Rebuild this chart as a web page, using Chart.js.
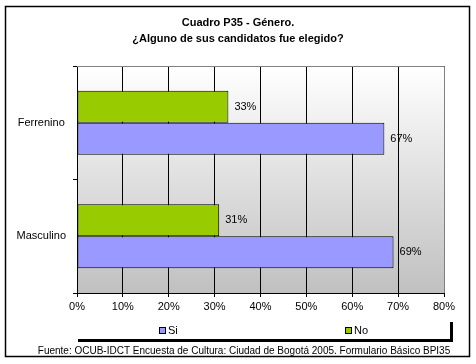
<!DOCTYPE html>
<html><head><meta charset="utf-8">
<script src="https://cdn.jsdelivr.net/npm/chart.js@4/dist/chart.umd.min.js"></script>
<style>html,body{margin:0;padding:0;background:#fff}#wrap{width:476px;height:364px}</style>
</head><body><div id="wrap"><canvas id="c" width="476" height="364"></canvas></div>
<script>
const titleLines = ["Cuadro P35 - Género.", "¿Alguno de sus candidatos fue elegido?"];
const categories = ["Ferrenino", "Masculino"];
const seriesNames = ["Si", "No"];
const siValues = [67, 69];
const noValues = [33, 31];
const xTicks = [0, 10, 20, 30, 40, 50, 60, 70, 80];
const sourceText = "Fuente: OCUB-IDCT Encuesta de Cultura: Ciudad de Bogotá 2005. Formulario Básico BPI35";

const FONT = "'Liberation Sans', Arial, sans-serif";
const colors = {Si: "#9999FF", No: "#99CC00"};

const deco = {
  id: "deco",
  beforeDraw(chart) {
    const {ctx, chartArea: a} = chart;
    const g = ctx.createLinearGradient(0, a.top, 0, a.bottom);
    g.addColorStop(0, "#ffffff");
    g.addColorStop(1, "#c0c0c0");
    ctx.save();
    ctx.fillStyle = g;
    ctx.fillRect(a.left, a.top, a.right - a.left, a.bottom - a.top);
    ctx.restore();
  },
  afterDatasetsDraw(chart) {
    const {ctx, chartArea: a} = chart;
    ctx.save();
    ctx.strokeStyle = "#808080";
    ctx.lineWidth = 1;
    ctx.beginPath();
    ctx.moveTo(a.left, a.top + 0.5); ctx.lineTo(a.right + 0.5, a.top + 0.5);
    ctx.lineTo(a.right + 0.5, a.bottom);
    ctx.stroke();
    ctx.fillStyle = "#000";
    ctx.font = "11px " + FONT;
    ctx.textBaseline = "middle";
    ctx.textAlign = "left";
    chart.data.datasets.forEach((ds, i) => {
      chart.getDatasetMeta(i).data.forEach((bar, j) => {
        ctx.fillText(ds.data[j] + "%", bar.x + 6, bar.y);
      });
    });
    ctx.restore();
  },
  afterDraw(chart) {
    const {ctx} = chart;
    ctx.save();
    ctx.strokeStyle = "#000";
    ctx.lineWidth = 1.5;
    ctx.strokeRect(5.5, 6.5, 464, 350);
    ctx.fillStyle = "#000";
    ctx.font = "bold 11px " + FONT;
    ctx.textAlign = "center";
    ctx.textBaseline = "middle";
    ctx.fillText(titleLines[0], 238, 23);
    ctx.fillText(titleLines[1], 238, 39);
    ctx.fillRect(78, 339, 375, 3);
    ctx.fillRect(450, 322, 3, 20);
    const items = [{name: seriesNames[0], x: 159}, {name: seriesNames[1], x: 345}];
    ctx.font = "11px " + FONT;
    ctx.textAlign = "left";
    items.forEach(it => {
      ctx.fillStyle = colors[it.name];
      ctx.fillRect(it.x, 327, 7, 7);
      ctx.strokeStyle = "#000";
      ctx.lineWidth = 1;
      ctx.strokeRect(it.x + 0.5, 327.5, 6, 6);
      ctx.fillStyle = "#000";
      ctx.fillText(it.name, it.x + 9, 330.5);
    });
    ctx.font = "10px " + FONT;
    ctx.textAlign = "center";
    ctx.fillText(sourceText, 244, 351);
    ctx.restore();
  }
};

new Chart(document.getElementById("c"), {
  type: "bar",
  data: {
    labels: categories,
    datasets: [
      {label: seriesNames[1], data: noValues, backgroundColor: colors.No, borderColor: "#000", borderWidth: 1, borderSkipped: false},
      {label: seriesNames[0], data: siValues, backgroundColor: colors.Si, borderColor: "#000", borderWidth: 1, borderSkipped: false}
    ]
  },
  options: {
    indexAxis: "y",
    responsive: false,
    animation: false,
    devicePixelRatio: 1,
    layout: {padding: {left: 5, top: 66, right: 32, bottom: 31}},
    plugins: {legend: {display: false}, title: {display: false}, tooltip: {enabled: false}},
    datasets: {bar: {categoryPercentage: 0.565, barPercentage: 1}},
    scales: {
      x: {
        min: 0, max: 80,
        afterFit(s) { s.height = 40; },
        afterBuildTicks(s) { s.ticks = xTicks.map(v => ({value: v})); },
        ticks: {callback: v => v + "%", color: "#000", font: {size: 11, family: FONT}, padding: 3, maxRotation: 0},
        grid: {color: "#000", lineWidth: 1, tickLength: 4, drawTicks: true},
        border: {color: "#000", width: 1}
      },
      y: {
        afterFit(s) { s.width = 72; },
        ticks: {color: "#000", font: {size: 11, family: FONT}, padding: 7, crossAlign: "center"},
        grid: {drawOnChartArea: false, color: "#000", tickLength: 4, offset: true},
        border: {color: "#000", width: 1}
      }
    }
  },
  plugins: [deco]
});
</script>
</body></html>
